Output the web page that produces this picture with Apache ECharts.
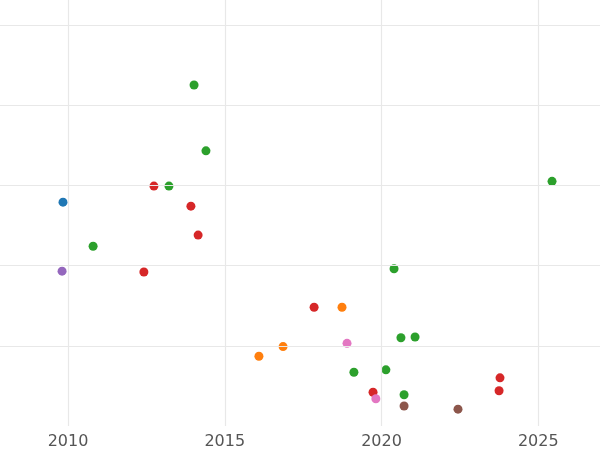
<!DOCTYPE html>
<html><head><meta charset="utf-8">
<script src="https://cdn.jsdelivr.net/npm/echarts@6/dist/echarts.min.js"></script>
<style>html,body{margin:0;padding:0;background:#fff}#c{width:600px;height:450px}</style>
</head><body><div id="c"></div>
<script>
const blueX=[2009.84], blueY=[2.79];
const orangeX=[2018.74,2016.09,2016.86], orangeY=[1.48,0.87,0.99];
const greenX=[2014.02,2014.40,2013.22,2010.80,2025.44,2020.40,2020.62,2021.07,2019.12,2020.14,2020.72];
const greenY=[4.25,3.43,2.99,2.24,3.05,1.96,1.10,1.11,0.67,0.70,0.39];
const redX=[2012.74,2013.92,2014.15,2012.42,2017.85,2019.73,2023.78,2023.75];
const redY=[2.99,2.74,2.38,1.92,1.48,0.42,0.60,0.44];
const purpleX=[2009.81], purpleY=[1.93];
const brownX=[2020.72,2022.44], brownY=[0.25,0.21];
const pinkX=[2018.90,2019.82], pinkY=[1.03,0.34];
const xTicks=[2010,2015,2020,2025];
const yGrid=[1,2,3,4,5];
const groups=[[blueX,blueY,'#1f77b4'],[orangeX,orangeY,'#ff7f0e'],[greenX,greenY,'#2ca02c'],[redX,redY,'#d62728'],[purpleX,purpleY,'#9467bd'],[brownX,brownY,'#8c564b'],[pinkX,pinkY,'#e377c2']];
const chart=echarts.init(document.getElementById('c'));
const series=groups.map(g=>({type:'scatter',symbolSize:9,z:3,itemStyle:{color:g[2],opacity:1},
  data:g[0].map((x,i)=>[x,g[1][i]])}));
series.push({type:'scatter',data:[],z:1,markLine:{silent:true,symbol:'none',label:{show:false},animation:false,
  lineStyle:{color:'#e8e8e8',width:1.2,type:'solid'},
  data:xTicks.map(v=>({xAxis:v})).concat(yGrid.map(v=>({yAxis:v})))}});
chart.setOption({
 animation:false,
 grid:{left:0,right:0,top:0,bottom:24},
 xAxis:{type:'value',min:2007.83,max:2026.97,
  axisLine:{show:false},axisTick:{show:false,customValues:xTicks},
  axisLabel:{color:'#555',fontSize:16,fontFamily:'DejaVu Sans',margin:8,customValues:xTicks,formatter:v=>String(v)},
  splitLine:{show:false}},
 yAxis:{type:'value',min:0,max:5.31,axisLabel:{show:false},axisLine:{show:false},axisTick:{show:false},splitLine:{show:false}},
 series
});
</script></body></html>
